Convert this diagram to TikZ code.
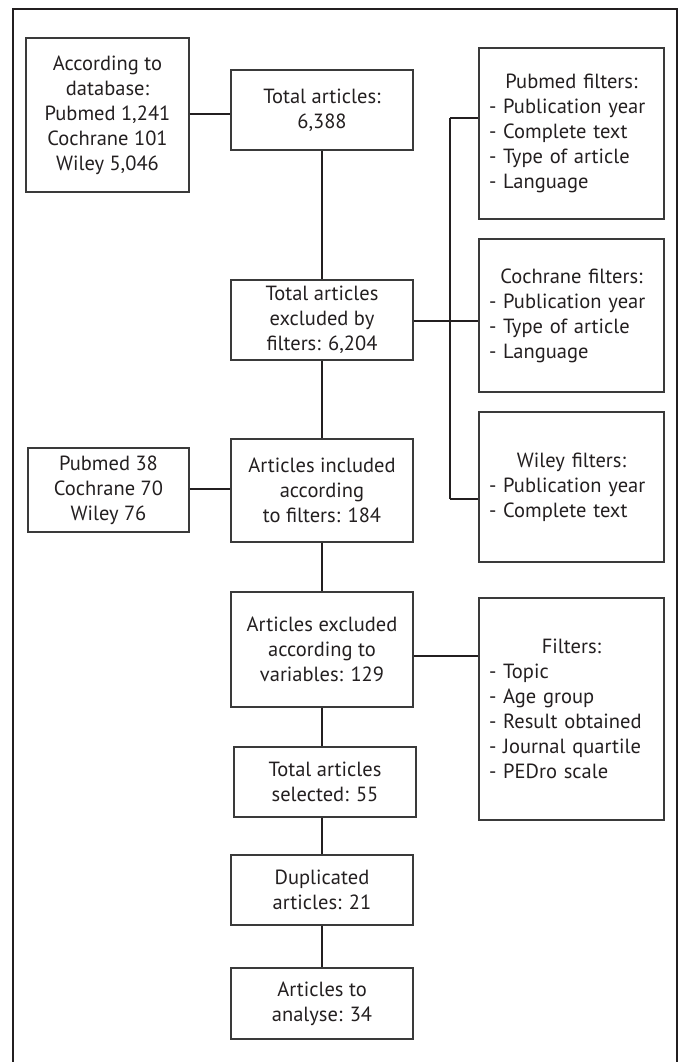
\documentclass[tikz,border=0pt]{standalone}
\usepackage{fontspec}
\setmainfont{PT Sans}
\definecolor{ink}{HTML}{231F20}
\definecolor{rim}{HTML}{3A3A3A}
\begin{document}
\begin{tikzpicture}[x=1pt,y=-1pt,
        every node/.style={font=\fontsize{20.5}{25}\selectfont,text=ink},
        stage/.style={draw=rim,line width=1.1pt,rectangle,align=center,
            minimum width=182pt,inner sep=0pt},
        side/.style={draw=rim,line width=1.1pt,rectangle,align=center,inner sep=0pt},
        filterbox/.style={draw=rim,line width=1.1pt,rectangle,align=left,
            text width=165pt,inner xsep=10pt,inner ysep=0pt},
        link/.style={draw=ink,line width=2.4pt}]
        \useasboundingbox (0,0) rectangle (683,1062);
        %% Frame
        \draw[ink,line width=2.4pt] (13,9) rectangle (677,1080);
        %% Main column
        \node[stage,minimum height=80pt] (tot) at (322,110) {Total articles:\\6,388};
        \node[stage,minimum height=80pt] (exc) at (322,320) {Total articles\\excluded by\\filters: 6,204};
        \node[stage,minimum height=103pt] (inc) at (322,490.5) {Articles included\\according\\to filters: 184};
        \node[stage,minimum height=115pt] (var) at (322,649.5) {Articles excluded\\according to\\variables: 129};
        \node[stage,minimum height=70pt] (sel) at (325,782) {Total articles\\selected: 55};
        \node[stage,minimum height=70pt] (dup) at (322,890) {Duplicated\\articles: 21};
        \node[stage,minimum height=71pt] (ana) at (322,1003.5) {Articles to\\analyse: 34};
        %% Left boxes
        \node[side,minimum width=163pt,minimum height=154pt] (db) at (107.5,115)
            {According to\\database:\\Pubmed 1,241\\Cochrane 101\\Wiley 5,046};
        \node[side,minimum width=161pt,minimum height=84pt] (p38) at (108.5,490)
            {Pubmed 38\\Cochrane 70\\Wiley 76};
        %% Filter boxes
        \node[filterbox,minimum height=171pt] (pubf) at (571.5,133.5)
            {{\centering Pubmed filters:\par}- Publication year\\- Complete text\\- Type of article\\- Language};
        \node[filterbox,minimum height=153pt] (cocf) at (571.5,315.5)
            {{\centering Cochrane filters:\par}- Publication year\\- Type of article\\- Language};
        \node[filterbox,minimum height=150pt] (wilf) at (571.5,487)
            {{\centering Wiley filters:\par}- Publication year\\- Complete text};
        \node[filterbox,minimum height=222pt] (filt) at (571.5,709)
            {{\centering Filters:\par}- Topic\\- Age group\\- Result obtained\\- Journal quartile\\- PEDro scale};
        %% Bracket
        \coordinate (brtop) at (450,118);
        \coordinate (brbot) at (450,499);
        %% Connectors
        \draw[link] (db.east |- 0,114) -- (tot.west |- 0,114);
        \draw[link] (tot.south) -- (exc.north);
        \draw[link] (exc.south) -- (inc.north);
        \draw[link] (inc.south) -- (var.north);
        \draw[link] (var.south) -- (var.south |- sel.north);
        \draw[link] (sel.south -| dup.north) -- (dup.north);
        \draw[link] (dup.south) -- (ana.north);
        \draw[link] (p38.east |- 0,489) -- (inc.west |- 0,489);
        \draw[link] (exc.east |- 0,321) -- (cocf.west |- 0,321);
        \draw[link] (brtop) -- (brbot);
        \draw[link] (brtop) -- (brtop -| pubf.west);
        \draw[link] (brbot) -- (brbot -| wilf.west);
        \draw[link] (var.east |- 0,656) -- (filt.west |- 0,656);
\end{tikzpicture}
\end{document}
